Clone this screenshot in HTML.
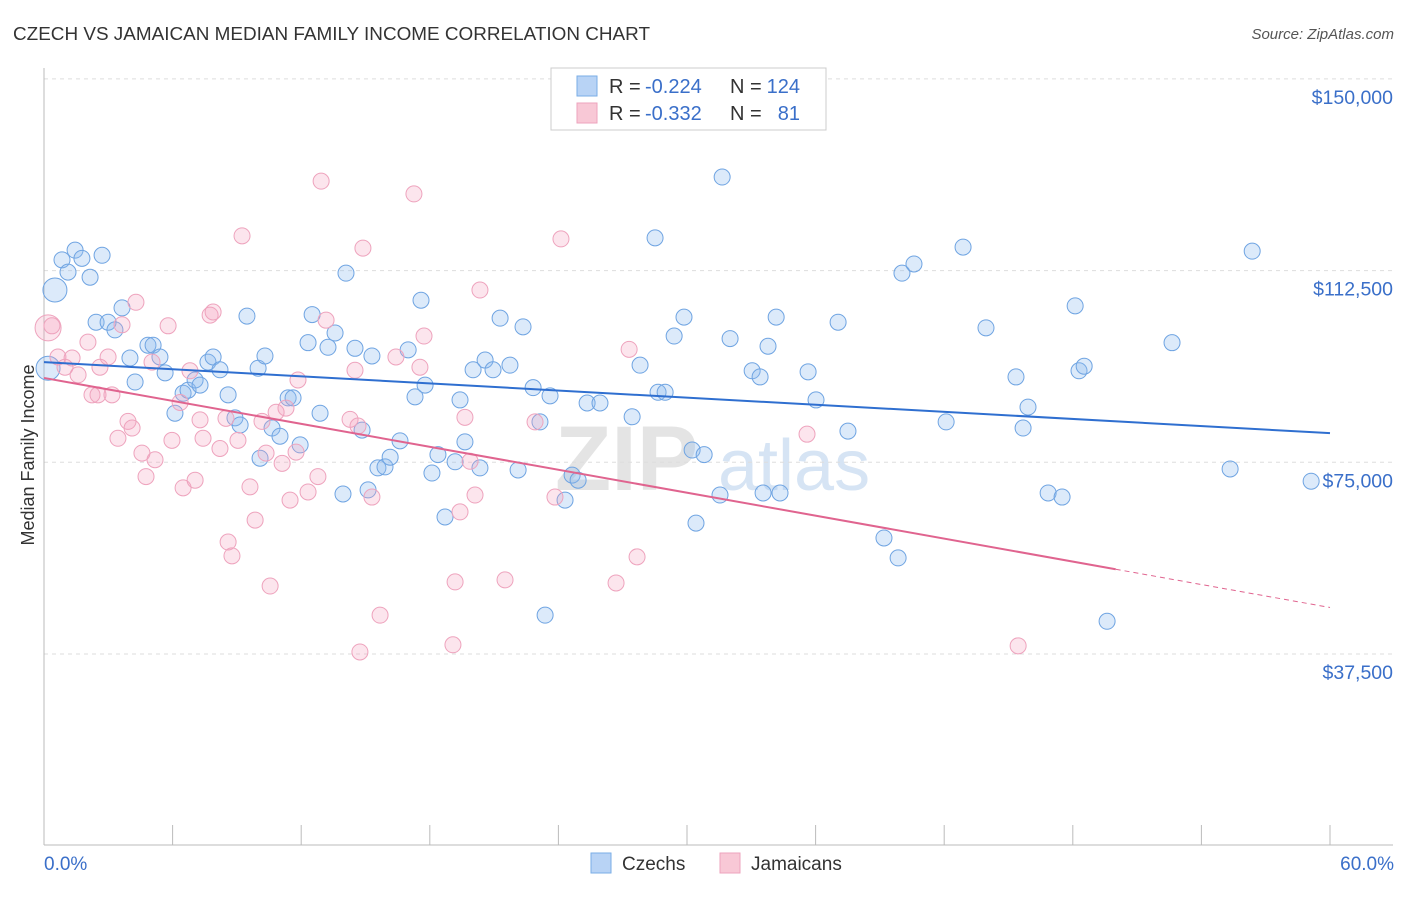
<!DOCTYPE html>
<html><head><meta charset="utf-8"><style>
body{margin:0;background:#fff;font-family:"Liberation Sans",sans-serif;}
svg text{font-family:"Liberation Sans",sans-serif;}
</style></head><body>
<svg id="chart" width="1406" height="892" xmlns="http://www.w3.org/2000/svg">
<text x="13" y="40" font-size="18" fill="#333" textLength="637" lengthAdjust="spacingAndGlyphs">CZECH VS JAMAICAN MEDIAN FAMILY INCOME CORRELATION CHART</text>
<text x="1394" y="39" font-size="15" fill="#555" font-style="italic" text-anchor="end">Source: ZipAtlas.com</text>
<g>
<text x="555" y="490" font-size="92" fill="#e4e4e4" font-family="Liberation Serif" font-weight="bold">ZIP</text>
<text x="718" y="490" font-size="72" fill="#d6e4f4">atlas</text>
</g>
<g id="grid"></g>
<g id="pts"></g>
<g id="trend"></g>
<text x="34" y="455" font-size="18" fill="#333" text-anchor="middle" transform="rotate(-90 34 455)">Median Family Income</text>
<text x="44" y="870" font-size="19" fill="#3a6fc9">0.0%</text>
<text x="1394" y="870" font-size="19" fill="#3a6fc9" text-anchor="end">60.0%</text>
<g>
<rect x="551" y="68" width="275" height="62" fill="#fff" stroke="#ccc"/>
<rect x="577" y="76" width="20" height="20" fill="#b8d3f5" stroke="#7aaee6"/>
<rect x="577" y="103" width="20" height="20" fill="#f8c8d6" stroke="#eea3bd"/>
<text x="609" y="93" font-size="20" fill="#333">R =</text>
<text x="645" y="93" font-size="20" fill="#3a6fc9">-0.224</text>
<text x="730" y="93" font-size="20" fill="#333">N =</text>
<text x="800" y="93" font-size="20" fill="#3a6fc9" text-anchor="end">124</text>
<text x="609" y="120" font-size="20" fill="#333">R =</text>
<text x="645" y="120" font-size="20" fill="#3a6fc9">-0.332</text>
<text x="730" y="120" font-size="20" fill="#333">N =</text>
<text x="800" y="120" font-size="20" fill="#3a6fc9" text-anchor="end">81</text>
</g>
<g>
<rect x="591" y="853" width="20" height="20" fill="#b8d3f5" stroke="#7aaee6"/>
<text x="622" y="870" font-size="19" fill="#333">Czechs</text>
<rect x="720" y="853" width="20" height="20" fill="#f8c8d6" stroke="#eea3bd"/>
<text x="751" y="870" font-size="19" fill="#333">Jamaicans</text>
</g>
</svg>
<script>
const yTicks=[37.5,75,112.5,150];
const yTickLabels=["$37,500","$75,000","$112,500","$150,000"];
const xTicks=[0,6,12,18,24,30,36,42,48,54,60];
const czechX=[0.51,0.84,1.12,1.45,1.77,2.15,2.71,2.43,2.99,3.31,3.64,4.01,4.25,4.85,5.09,5.41,5.65,6.11,6.49,6.72,7.05,7.28,7.65,7.89,8.21,8.59,8.91,9.15,9.47,9.99,10.31,10.08,10.64,11.01,11.39,11.62,11.95,12.32,12.51,12.88,13.25,13.58,13.95,14.09,14.51,14.84,15.12,15.30,15.58,15.91,16.15,16.61,16.99,17.31,17.59,17.78,18.10,18.38,18.71,19.18,19.41,19.64,20.02,20.34,20.58,20.95,21.28,21.74,22.12,22.35,22.82,23.14,23.61,23.38,24.31,24.64,24.92,25.34,25.94,27.44,27.81,28.51,28.65,28.98,29.40,29.86,30.24,30.42,30.80,31.54,31.64,32.01,33.04,33.41,33.55,33.78,34.16,34.34,35.65,36.02,37.05,37.51,39.19,39.85,40.03,40.59,42.09,42.88,43.95,45.35,45.68,45.91,46.85,47.50,48.11,48.29,48.53,49.60,52.63,55.34,56.37,59.12,0.19];
const czechY=[108.7,114.6,112.2,116.5,114.9,111.2,115.5,102.4,102.4,100.9,105.2,95.4,90.7,97.9,97.9,95.6,92.5,84.6,88.5,89.1,91.1,90.1,94.6,95.6,93.1,88.2,83.7,82.3,103.6,93.4,95.8,75.8,81.7,80.1,87.6,87.6,78.4,98.4,103.9,84.6,97.5,100.3,68.8,112.0,97.3,81.3,69.6,95.8,73.9,74.1,76.0,79.2,97.0,87.8,106.7,90.1,72.9,76.5,64.3,75.1,87.2,79.0,93.1,73.9,95.0,93.1,103.2,94.0,73.5,101.5,89.6,82.9,88.0,45.1,67.6,72.5,71.5,86.6,86.6,83.9,94.0,118.9,88.7,88.7,99.7,103.4,77.4,63.1,76.5,68.6,130.8,99.2,92.9,91.7,69.0,97.7,103.4,69.0,92.7,87.2,102.4,81.1,60.2,56.3,112.0,113.8,82.9,117.1,101.3,91.7,81.7,85.8,69.0,68.2,105.6,92.9,93.8,43.9,98.4,73.7,116.3,71.3,93.4];
const jamX=[0.19,0.37,0.65,0.98,1.31,1.59,2.05,2.24,2.52,2.61,2.99,3.17,3.45,3.64,3.92,4.11,4.29,4.57,4.76,5.04,5.18,5.79,5.97,6.35,6.49,6.81,7.05,7.28,7.42,7.75,7.89,8.21,8.49,8.59,8.77,9.05,9.24,9.61,9.85,10.17,10.36,10.55,10.83,11.11,11.29,11.48,11.76,11.85,12.32,12.78,12.93,13.16,14.28,14.51,14.65,14.74,14.88,15.30,15.68,16.42,17.26,17.54,17.73,19.08,19.18,19.41,19.64,19.88,20.11,20.34,21.51,22.91,23.84,24.12,26.69,27.30,27.67,35.60,45.45];
const jamY=[101.3,101.7,95.6,93.6,95.4,92.1,98.5,88.2,88.2,93.6,95.6,88.2,79.7,101.9,83.0,81.7,106.3,76.8,72.2,94.6,75.5,101.7,79.3,86.7,70.0,92.9,71.5,83.3,79.7,103.8,104.4,77.7,83.6,59.4,56.7,79.3,119.3,70.2,63.7,83.0,76.8,50.8,84.8,74.8,85.6,67.6,77.0,91.1,69.2,72.2,130.0,102.8,83.4,93.0,82.1,37.9,116.9,68.2,45.1,95.6,127.5,93.6,99.7,39.3,51.6,65.3,83.8,75.2,68.6,108.7,52.0,82.9,68.2,118.7,51.4,97.1,56.5,80.5,39.1];
const czechTrend=[94.6,80.7];
const jamTrend=[91.5,46.6];
const jamSolidEnd=50;
const NS="http://www.w3.org/2000/svg";
const xs=v=>44+v/60*1286;
const ys=v=>845.7-v/37.5*191.7;
function mk(tag,attrs,parent){const e=document.createElementNS(NS,tag);for(const k in attrs)e.setAttribute(k,attrs[k]);parent.appendChild(e);return e;}
const grid=document.getElementById('grid');
yTicks.forEach((t,i)=>{
 const l=mk('line',{x1:44,x2:1393,y1:ys(t),y2:ys(t),stroke:'#ddd','stroke-dasharray':'4,4'},grid);
 
 
 const tx=mk('text',{x:1393,y:ys(t)+25,'font-size':19.5,fill:'#3a6fc9','text-anchor':'end'},grid);
 tx.textContent=yTickLabels[i];
 
 
});
const ax=mk('line',{x1:44,x2:1393,y1:845,y2:845,stroke:'#bbb'},grid);


const ay=mk('line',{x1:44,x2:44,y1:68,y2:845,stroke:'#bbb'},grid);


xTicks.forEach(t=>{
 const l=mk('line',{x1:xs(t),x2:xs(t),y1:825,y2:845,stroke:'#bbb'},grid);
 
 
});
const pts=document.getElementById('pts');
czechX.forEach((x,i)=>{
 const r=(i===0||i===czechX.length-1)?12:8;
 const c=mk('circle',{cx:xs(x),cy:ys(czechY[i]),r:r,fill:'rgba(140,185,240,0.3)',stroke:'#6fa4e2','stroke-width':1},pts);
 
 
});
jamX.forEach((x,i)=>{
 const r=(i===0)?13:8;
 const c=mk('circle',{cx:xs(x),cy:ys(jamY[i]),r:r,fill:'rgba(245,160,190,0.28)',stroke:'#eea3bd','stroke-width':1},pts);
 
 
});
const tr=document.getElementById('trend');
const b=mk('line',{x1:xs(0),y1:ys(czechTrend[0]),x2:xs(60),y2:ys(czechTrend[1]),stroke:'#2f6fd0','stroke-width':2},tr);


const jy=x=>jamTrend[0]+(jamTrend[1]-jamTrend[0])*x/60;
const p1=mk('line',{x1:xs(0),y1:ys(jy(0)),x2:xs(jamSolidEnd),y2:ys(jy(jamSolidEnd)),stroke:'#e0648f','stroke-width':2},tr);


const p2=mk('line',{x1:xs(jamSolidEnd),y1:ys(jy(jamSolidEnd)),x2:xs(60),y2:ys(jy(60)),stroke:'#e0648f','stroke-width':1,'stroke-dasharray':'5,4'},tr);


</script>
</body></html>
